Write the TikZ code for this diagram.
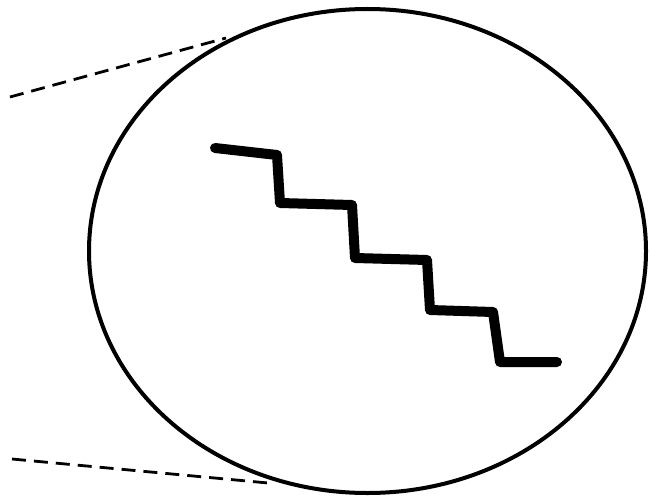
\documentclass[tikz,border=0pt]{standalone}
\begin{document}
\begin{tikzpicture}[x=1pt, y=-1pt]
            \useasboundingbox (0,0) rectangle (650,500);
            \draw[line width=4pt] (367.5,251) ellipse (278.5pt and 242pt);
            \draw[line width=2.8pt, dash pattern=on 14pt off 8pt] (10,97) -- (226,38);
            \draw[line width=2.8pt, dash pattern=on 14pt off 8pt] (12,459) -- (268,483);
            \draw[line width=10pt, line cap=round, line join=round] (215,148) -- (277,155) -- (280,203) -- (352,205) -- (355,258) -- (427,260) -- (430,310) -- (493,312) -- (500,362) -- (557,362);
        \end{tikzpicture}
\end{document}
